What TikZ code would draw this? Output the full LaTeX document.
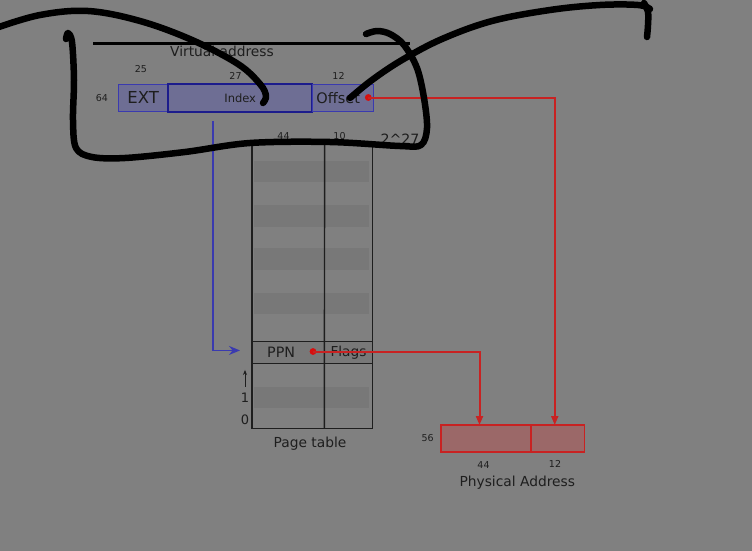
\documentclass[tikz,border=0pt]{standalone}
\usepackage{fontspec}
\setmainfont{DejaVu Sans}
\usepackage{xcolor}
\usepackage{tikz}
\usetikzlibrary{arrows.meta,positioning,calc}
\definecolor{ScreenGray}{RGB}{128,128,128}
\definecolor{InkDark}{RGB}{30,30,30}
\definecolor{VABlue}{RGB}{58,58,175}
\definecolor{VANavy}{RGB}{28,28,140}
\definecolor{VAFill}{RGB}{110,110,148}
\definecolor{PARed}{RGB}{200,34,34}
\definecolor{PADot}{RGB}{215,14,14}
\definecolor{PAFill}{RGB}{155,104,104}
\definecolor{RowGray}{RGB}{120,120,120}

\begin{document}
\begin{tikzpicture}[x=1pt, y=-1pt,
      every node/.style={text=InkDark, inner sep=0pt, outer sep=0pt, align=center},
      vcell/.style={rectangle, draw=VABlue, fill=VAFill, line width=1.2pt, minimum height=27.5pt},
      pcell/.style={rectangle, draw=PARed, fill=PAFill, line width=1.2pt, minimum height=27pt},
      tcell/.style={rectangle, draw=InkDark, fill=RowGray, line width=1.4pt, minimum height=21.5pt},
      bits/.style={font=\fontsize{9.5}{11}\selectfont},
      caption/.style={font=\fontsize{13.8}{16}\selectfont},
      vline/.style={->, >={Stealth[length=11pt,width=9pt]}, draw=VABlue, line width=1.3pt},
      pline/.style={->, >={Triangle[length=9pt,width=7pt]}, draw=PARed, line width=2pt},
      hand/.style={draw=black, line width=6.5pt, line cap=round, line join=round}
    ]
      \useasboundingbox (0,0) rectangle (752,551);
      \fill[ScreenGray] (0,0) rectangle (752,551);

      % Virtual address
      \node[caption] (vatitle) at (222,51.5) {Virtual address};
      \node[vcell, minimum width=50pt, font=\fontsize{16.5}{18}\selectfont] (ext) at (143.2,97.9) {EXT};
      \node[vcell, minimum width=144pt, draw=VANavy, line width=2pt, font=\fontsize{11.5}{13}\selectfont, right=0pt of ext] (idx) {Index};
      \node[vcell, minimum width=61pt, font=\fontsize{14.5}{16}\selectfont, right=0pt of idx] (off) {Offset\hspace{9pt}};
      \node[bits] (va64) at (102,97.7) {64};
      \node[bits] (va25) at (141,69) {25};
      \node[bits] (va27) at (235.5,75.7) {27};
      \node[bits] (va12) at (338.5,75.7) {12};
      \fill[PADot] (368.3,97.5) circle (3.4pt);
      \coordinate (offdot) at (368.3,97.5);
      \coordinate (idxdrop) at (213,121);

      % Page table
      \node[draw=InkDark, line width=1.4pt, minimum width=120.7pt, minimum height=285.5pt, anchor=north west] (ptab) at (252,143) {};
      \foreach \y in {160.7,205,248.3,292.7,386.7}
        \fill[RowGray] (254,\y) rectangle (369,\y+21.5);
      \node[tcell, minimum width=72.3pt, anchor=north west] (ppn) at (252,341.7) {\fontsize{14.3}{16}\selectfont PPN\hspace{14pt}};
      \node[tcell, minimum width=48.4pt, right=0pt of ppn] (flags) {\fontsize{13.7}{16}\selectfont Flags};
      \draw[InkDark, line width=1.4pt] (ptab.north) ++(12.3,0) -- (ptab.south -| flags.west);
      \fill[PADot] (313,351.5) circle (3.4pt);
      \coordinate (ppndot) at (313,351.5);
      \node[bits] (pt44) at (283.5,136) {44};
      \node[bits] (pt10) at (339.5,136) {10};
      \node[font=\fontsize{14.2}{16}\selectfont] (rows) at (400,139) {2\^{}27};
      \node[font=\fontsize{13}{15}\selectfont] (one) at (245,397.7) {1};
      \node[font=\fontsize{13}{15}\selectfont] (zero) at (245,419.3) {0};
      \draw[->, >={Stealth[length=5pt,width=4pt]}, draw=InkDark, line width=1pt] ([yshift=6pt]one.north) -- ++(0,-17);
      \node[caption] (ptcap) at (310,443.3) {Page table};

      % Physical address
      \node[pcell, minimum width=90pt, anchor=north west] (pa44) at (441,425) {};
      \node[pcell, minimum width=53.5pt, right=0pt of pa44] (pa12) {};
      \node[bits] (pa56) at (427.7,438.3) {56};
      \node[bits] (pa44n) at (483.5,465) {44};
      \node[bits] (pa12n) at (555,463.5) {12};
      \node[caption] (pacap) at (517.3,482.3) {Physical Address};

      % Connectors
      \draw[vline] (idxdrop) |- ([xshift=-12pt,yshift=2pt]ppn.west);
      \draw[pline] (ppndot) -| ([xshift=-6.5pt]pa44.north);
      \draw[pline] (offdot) -| ([xshift=-3pt]pa12.north);

      % Pen strokes
      \draw[black, line width=3pt] (93,43.5) -- (410,43.5);
      \draw[hand] plot[smooth, tension=0.6] coordinates {(-4,28) (40,15) (88,11) (140,21) (192,40) (238,64) (260,84) (266,96) (263,103)};
      \draw[hand] plot[smooth, tension=0.55] coordinates {(66,39) (68,33) (72,42) (74,80) (73,120) (76,148) (92,157) (125,158) (185,152) (250,143) (330,142) (400,146) (421,145) (427,128) (424,98) (417,68) (404,45) (390,34) (377,31) (366,34)};
      \draw[hand] plot[smooth, tension=0.6] coordinates {(350,98) (372,80) (402,60) (442,39) (492,21) (550,10) (600,5) (638,5) (650,9)};
      \draw[hand] plot[smooth, tension=0.6] coordinates {(644,3) (648,12) (648,25) (647,37)};
    \end{tikzpicture}
\end{document}
